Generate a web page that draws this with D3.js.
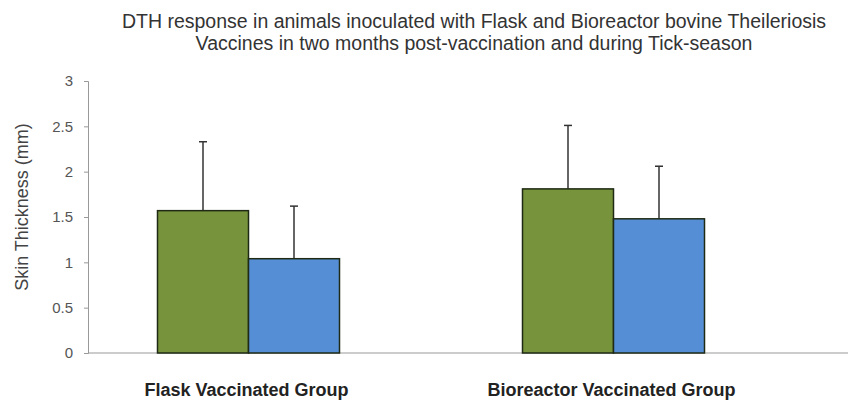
<body style="margin:0">
<script src="https://d3js.org/d3.v7.min.js"></script>
<style>
  text { font-family: Arial, "Liberation Sans", sans-serif; }
</style>
<script>
  var groups = ["Flask Vaccinated Group", "Bioreactor Vaccinated Group"];
  var seriesNames = ["Two months post-vaccination", "Tick-season"];
  var means = [[1.57, 1.04], [1.81, 1.48]];
  var errors = [[0.76, 0.58], [0.70, 0.58]];
  var yTicks = [0, 0.5, 1, 1.5, 2, 2.5, 3];
  var titleLines = [
    "DTH response in animals inoculated with Flask and Bioreactor bovine Theileriosis",
    "Vaccines in two months post-vaccination and during Tick-season"
  ];
  var colors = ["#77933C", "#558ED5"];

  var width = 856, height = 400;
  var plot = {left: 88, right: 848, top: 81, bottom: 353};

  var svg = d3.select("body").append("svg")
      .attr("width", width)
      .attr("height", height);

  svg.append("rect").attr("width", width).attr("height", height).attr("fill", "#fff");

  var y = d3.scaleLinear().domain([0, 3]).range([plot.bottom, plot.top]);

  // category bands (Excel puts the clusters slightly left here)
  var x = d3.scaleBand().domain(groups).range([66, 796]).paddingInner(0).paddingOuter(0);
  var xs = d3.scaleBand().domain(seriesNames).range([-91, 91]);

  // y axis
  var yAxis = svg.append("g")
      .attr("transform", "translate(" + plot.left + ",0)")
      .call(d3.axisLeft(y).tickValues(yTicks).tickFormat(d3.format("~g")).tickSizeOuter(0).tickSize(4));
  yAxis.select(".domain").attr("stroke", "#999");
  yAxis.selectAll(".tick line").attr("stroke", "#999");
  yAxis.selectAll(".tick text").attr("fill", "#555").style("font-size", "15px").attr("x", -15);

  // baseline
  svg.append("line")
      .attr("x1", plot.left).attr("x2", plot.right)
      .attr("y1", y(0)).attr("y2", y(0))
      .attr("stroke", "#999");

  groups.forEach(function(g, gi) {
    var cx = x(g) + x.bandwidth() / 2;
    var cluster = svg.append("g").attr("transform", "translate(" + cx + ",0)");
    seriesNames.forEach(function(s, si) {
      var v = means[gi][si], e = errors[gi][si];
      var bx = xs(s), bw = xs.bandwidth();
      cluster.append("line")
          .attr("x1", bx + bw / 2).attr("x2", bx + bw / 2)
          .attr("y1", y(v)).attr("y2", y(v + e))
          .attr("stroke", "#333").attr("stroke-width", 1.5);
      cluster.append("line")
          .attr("x1", bx + bw / 2 - 4).attr("x2", bx + bw / 2 + 4)
          .attr("y1", y(v + e)).attr("y2", y(v + e))
          .attr("stroke", "#333").attr("stroke-width", 1.5);
      cluster.append("rect")
          .attr("x", bx).attr("width", bw)
          .attr("y", y(v)).attr("height", y(0) - y(v))
          .attr("fill", colors[si])
          .attr("stroke", "#1e2a14").attr("stroke-width", 1.5);
    });
  });

  // category labels, centred under each cluster
  groups.forEach(function(g) {
    svg.append("text")
        .attr("x", x(g) + x.bandwidth() / 2 - 2).attr("y", 396)
        .attr("text-anchor", "middle")
        .style("font-size", "18px").style("font-weight", "bold")
        .attr("fill", "#222")
        .text(g);
  });

  svg.append("text")
      .attr("transform", "translate(28,207) rotate(-90)")
      .attr("text-anchor", "middle")
      .style("font-size", "18px")
      .attr("fill", "#444")
      .text("Skin Thickness (mm)");

  svg.selectAll(".title").data(titleLines).enter().append("text")
      .attr("class", "title")
      .attr("x", 474).attr("y", (d, i) => 28 + i * 22)
      .attr("text-anchor", "middle")
      .style("font-size", "19.5px")
      .attr("fill", "#333")
      .text(d => d);
</script>
</body>
